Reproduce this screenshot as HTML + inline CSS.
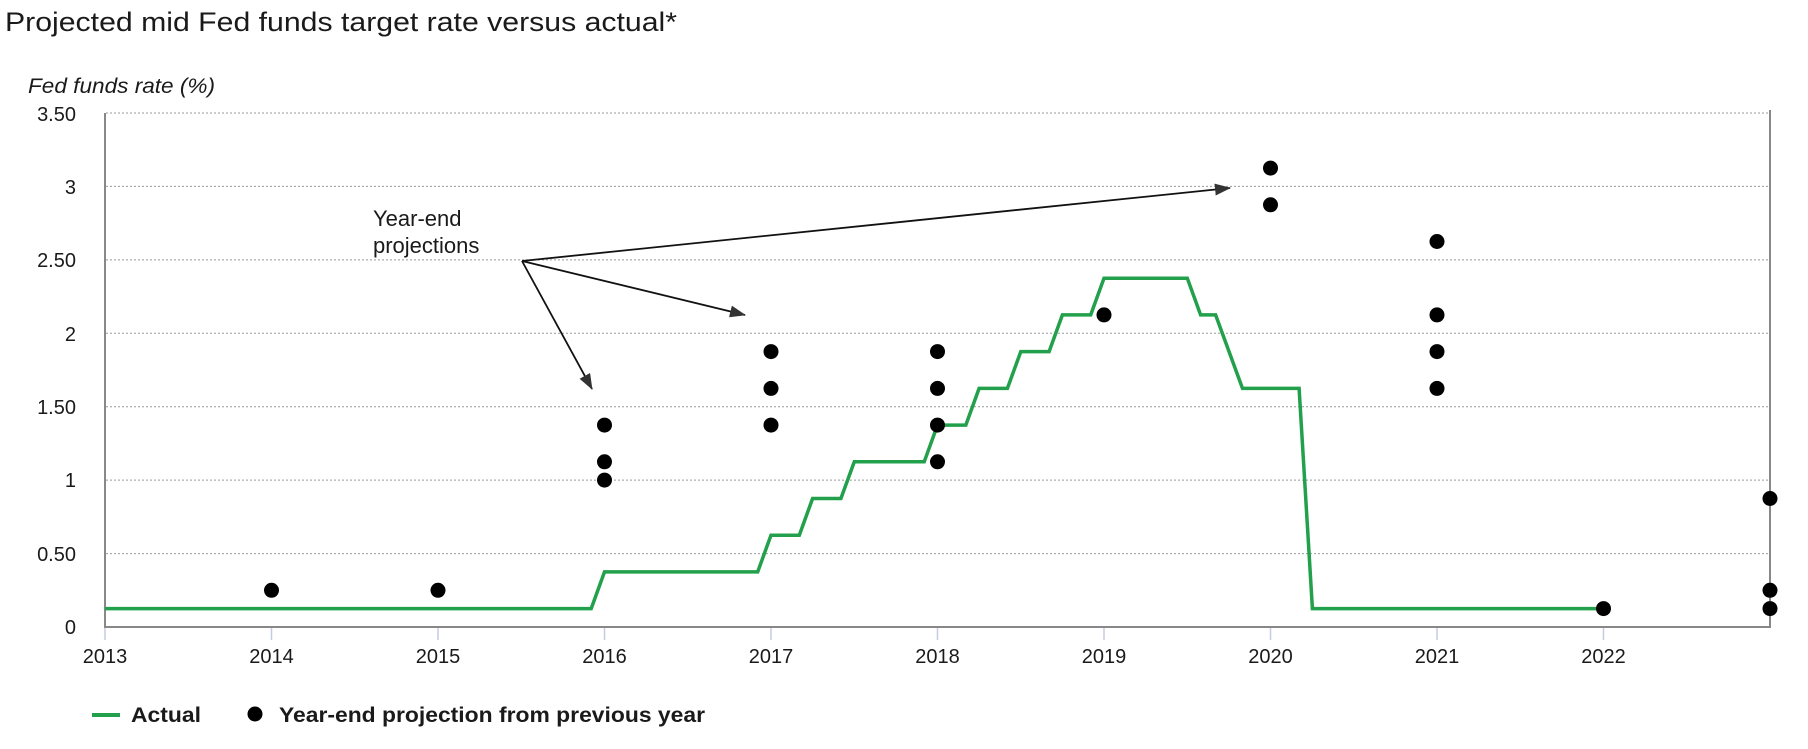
<!DOCTYPE html>
<html><head><meta charset="utf-8"><style>
html,body{margin:0;padding:0;background:#fff;}
svg{display:block;}
text{font-family:"Liberation Sans",Arial,sans-serif;fill:#1a1a1a;}
</style></head><body>
<svg width="1808" height="749" viewBox="0 0 1808 749" xmlns="http://www.w3.org/2000/svg">
<defs>
<marker id="ah" markerWidth="16" markerHeight="12" refX="15" refY="6" orient="auto" markerUnits="userSpaceOnUse">
<path d="M0,0 L16,6 L0,12 z" fill="#333"/>
</marker>
</defs>
<text x="5" y="31" font-size="27" textLength="672" lengthAdjust="spacingAndGlyphs">Projected mid Fed funds target rate versus actual*</text>
<text x="28" y="93" font-size="21" font-style="italic" textLength="187" lengthAdjust="spacingAndGlyphs">Fed funds rate (%)</text>
<g stroke="#999" stroke-width="1" stroke-dasharray="2,2">
<line x1="106" x2="1770" y1="113" y2="113"/>
<line x1="106" x2="1770" y1="186.4" y2="186.4"/>
<line x1="106" x2="1770" y1="259.9" y2="259.9"/>
<line x1="106" x2="1770" y1="333.3" y2="333.3"/>
<line x1="106" x2="1770" y1="406.7" y2="406.7"/>
<line x1="106" x2="1770" y1="480.1" y2="480.1"/>
<line x1="106" x2="1770" y1="553.6" y2="553.6"/>
</g>
<g stroke="#c5cbe0" stroke-width="1.5">
<line x1="105" x2="105" y1="627" y2="640"/><line x1="271.5" x2="271.5" y1="627" y2="640"/><line x1="438" x2="438" y1="627" y2="640"/><line x1="604.5" x2="604.5" y1="627" y2="640"/><line x1="771" x2="771" y1="627" y2="640"/><line x1="937.5" x2="937.5" y1="627" y2="640"/><line x1="1104" x2="1104" y1="627" y2="640"/><line x1="1270.5" x2="1270.5" y1="627" y2="640"/><line x1="1437" x2="1437" y1="627" y2="640"/><line x1="1603.5" x2="1603.5" y1="627" y2="640"/>
</g>
<g stroke="#888" stroke-width="2" fill="none">
<line x1="105" x2="105" y1="113" y2="628"/>
<line x1="1770" x2="1770" y1="110" y2="628"/>
<line x1="104" x2="1771" y1="627" y2="627"/>
</g>
<g font-size="20" text-anchor="end">
<text x="76" y="121">3.50</text><text x="76" y="194">3</text><text x="76" y="267">2.50</text><text x="76" y="341">2</text><text x="76" y="414">1.50</text><text x="76" y="487">1</text><text x="76" y="561">0.50</text><text x="76" y="634">0</text>
</g>
<g font-size="20" text-anchor="middle">
<text x="105" y="663">2013</text><text x="271.5" y="663">2014</text><text x="438" y="663">2015</text><text x="604.5" y="663">2016</text><text x="771" y="663">2017</text><text x="937.5" y="663">2018</text><text x="1104" y="663">2019</text><text x="1270.5" y="663">2020</text><text x="1437" y="663">2021</text><text x="1603.5" y="663">2022</text>
</g>
<polyline fill="none" stroke="#22a04b" stroke-width="3.5" stroke-linejoin="miter" points="105,608.6 591.2,608.6 604.5,571.9 757.7,571.9 771,535.2 799.3,535.2 812.6,498.5 840.9,498.5 854.3,461.8 924.2,461.8 937.5,425.1 965.8,425.1 979.1,388.4 1007.4,388.4 1020.8,351.6 1049.1,351.6 1062.4,314.9 1090.7,314.9 1104,278.2 1187.3,278.2 1200.6,314.9 1215.6,314.9 1242.5,388.4 1299.1,388.4 1312.4,608.6 1603.5,608.6"/>
<g fill="#000">
<circle cx="271.5" cy="590.3" r="7.5"/><circle cx="438" cy="590.3" r="7.5"/>
<circle cx="604.5" cy="425.1" r="7.5"/><circle cx="604.5" cy="461.8" r="7.5"/><circle cx="604.5" cy="480.1" r="7.5"/>
<circle cx="771" cy="351.6" r="7.5"/><circle cx="771" cy="388.4" r="7.5"/><circle cx="771" cy="425.1" r="7.5"/>
<circle cx="937.5" cy="351.6" r="7.5"/><circle cx="937.5" cy="388.4" r="7.5"/><circle cx="937.5" cy="425.1" r="7.5"/><circle cx="937.5" cy="461.8" r="7.5"/>
<circle cx="1104" cy="314.9" r="7.5"/>
<circle cx="1270.5" cy="168.1" r="7.5"/><circle cx="1270.5" cy="204.8" r="7.5"/>
<circle cx="1437" cy="241.5" r="7.5"/><circle cx="1437" cy="314.9" r="7.5"/><circle cx="1437" cy="351.6" r="7.5"/><circle cx="1437" cy="388.4" r="7.5"/>
<circle cx="1603.5" cy="608.6" r="7.5"/>
<circle cx="1770" cy="498.5" r="7.5"/><circle cx="1770" cy="590.3" r="7.5"/><circle cx="1770" cy="608.6" r="7.5"/>
</g>
<text x="373" y="226" font-size="22">Year-end</text>
<text x="373" y="253" font-size="22">projections</text>
<g stroke="#111" stroke-width="1.8" fill="none">
<line x1="522" y1="261" x2="1230" y2="188" marker-end="url(#ah)"/>
<line x1="522" y1="261" x2="745" y2="315" marker-end="url(#ah)"/>
<line x1="522" y1="261" x2="592" y2="389" marker-end="url(#ah)"/>
</g>
<line x1="92" x2="120" y1="715" y2="715" stroke="#22a04b" stroke-width="4"/>
<text x="131" y="722" font-size="21" font-weight="bold" fill="#222" textLength="70" lengthAdjust="spacingAndGlyphs">Actual</text>
<circle cx="255" cy="714" r="7.5" fill="#000"/>
<text x="279" y="722" font-size="21" font-weight="bold" fill="#222" textLength="426" lengthAdjust="spacingAndGlyphs">Year-end projection from previous year</text>
</svg>
</body></html>
